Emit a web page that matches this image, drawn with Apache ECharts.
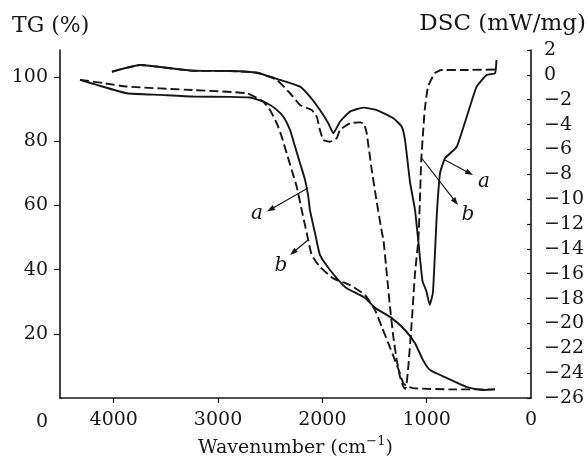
<!DOCTYPE html>
<html><head><meta charset="utf-8">
<script src="https://cdn.jsdelivr.net/npm/echarts@6/dist/echarts.min.js"></script>
<style>html,body{margin:0;padding:0;background:#fff}#c{width:588px;height:464px}</style>
</head><body><div id="c"></div>
<script>
// ---- data (wavenumber in cm^-1, TG in %, DSC in mW/mg) ----
const tgA_wn = [4323,4160,3873,3556,3240,2885,2694,2598,2531,2454,2374,2310,2262,2214,2166,2135,2119,2071,2023,1927,1802,1754,1591,1495,1335,1208,1112,1035,968,805,614,460,345];
const tgA    = [99.2,97.6,95.0,94.5,94.0,93.9,93.7,92.8,91.9,90.3,87.7,83.6,78.4,73.2,68.0,62.8,58.6,51.5,44.6,39.9,35.2,34.0,31.2,28.1,24.9,21.2,17.1,11.8,8.7,6.2,3.4,2.5,2.7];

const tgB_wn = [4323,4103,3873,3240,2722,2566,2502,2438,2390,2342,2294,2246,2198,2150,2102,2023,1895,1735,1591,1495,1431,1368,1304,1256,1224,1176,1112,776,345];
const tgB    = [99.2,98.2,97.1,96.0,95.0,92.4,89.8,85.7,81.5,76.3,71.1,65.9,58.6,51.5,44.6,40.9,37.3,35.2,32.1,27.4,22.2,17.1,11.8,7.7,4.6,3.5,3.0,2.7,2.7];

const dscA_wn = [4017,3748,3240,2885,2627,2406,2214,2119,2023,1943,1895,1831,1735,1608,1479,1320,1239,1208,1160,1112,1080,1040,1003,971,940,904,872,824,712,616,521,425,345,331];
const dscA    = [0.25,0.79,0.33,0.31,0.17,-0.41,-0.95,-1.76,-2.83,-3.90,-4.70,-3.77,-2.96,-2.64,-2.83,-3.49,-4.17,-5.24,-8.6,-10.87,-13.4,-16.6,-17.4,-18.5,-17.5,-11.41,-7.92,-6.71,-5.78,-3.37,-0.95,-0.01,0.13,1.2];

const dscB_wn = [4017,3748,3240,2885,2627,2438,2310,2214,2102,2054,2023,1991,1927,1863,1831,1735,1639,1600,1575,1531,1483,1431,1414,1383,1352,1320,1287,1256,1224,1205,1192,1176,1144,1112,1080,1065,1052,1035,1019,987,923,860,652,345];
const dscB    = [0.25,0.79,0.33,0.31,0.17,-0.41,-1.48,-2.42,-2.83,-3.37,-4.44,-5.24,-5.38,-5.10,-4.44,-3.90,-3.82,-3.95,-4.70,-7.4,-10.0,-12.6,-13.29,-15.96,-18.65,-21.06,-22.94,-24.28,-25.09,-25.27,-24.81,-23.48,-19.99,-15.96,-13.29,-10.1,-6.85,-4.68,-2.83,-0.95,0.13,0.39,0.39,0.43];

const xTickValues  = [1000,2000,3000,4000];
const xLabelValues = [0,1000,2000,3000,4000];
const tgTickValues = [20,40,60,80,100];

function pairs(xs, ys){ return xs.map((x,i)=>[x, ys[i]]); }

const FONT = 'DejaVu Serif';
const INK = '#161616';

function arrow(x1,y1,x2,y2){
  const dx=x2-x1, dy=y2-y1, L=Math.hypot(dx,dy), ux=dx/L, uy=dy/L;
  const hl=8, hw=2.8;
  const bx=x2-ux*hl, by=y2-uy*hl;
  return [
    {type:'line', silent:true, shape:{x1:x1,y1:y1,x2:bx+ux*1,y2:by+uy*1}, style:{stroke:INK, lineWidth:1.2}},
    {type:'polygon', silent:true, shape:{points:[[x2,y2],[bx-uy*hw,by+ux*hw],[bx+uy*hw,by-ux*hw]]}, style:{fill:INK}}
  ];
}
function txt(x,y,t,opt){
  return Object.assign({type:'text', x:x, y:y, silent:true,
    style:Object.assign({text:t, fontFamily:FONT, fontSize:20, fill:INK, align:'center', verticalAlign:'middle'}, opt||{})});
}

const chart = echarts.init(document.getElementById('c'), null, {renderer:'canvas'});

const lineBase = {type:'line', showSymbol:false, symbol:'none', smooth:0.15, animation:false};

chart.setOption({
  animation:false,
  backgroundColor:'#ffffff',
  textStyle:{fontFamily:FONT, color:INK},
  grid:{left:60, right:57, top:50, bottom:66, containLabel:false, outerBoundsMode:'none'},
  xAxis:{
    type:'value', inverse:true, min:0, max:4515,
    name:'Wavenumber (cm{sup|−1})', nameLocation:'middle', nameGap:34,
    nameTextStyle:{fontFamily:FONT, fontSize:19, color:INK, lineHeight:26,
      rich:{sup:{fontFamily:FONT, fontSize:13, color:INK, verticalAlign:'top', lineHeight:14}}},
    axisLine:{show:true, lineStyle:{color:INK, width:1.6}},
    axisTick:{show:true, inside:false, length:5, lineStyle:{color:INK, width:1.2}, customValues:xTickValues},
    axisLabel:{fontFamily:FONT, fontSize:19, color:INK, margin:13, customValues:xLabelValues,
      formatter:function(v){ return String(v); }},
    splitLine:{show:false}
  },
  yAxis:[
    {
      type:'value', min:0, max:108.5, position:'left',
      axisLine:{show:true, onZero:false, lineStyle:{color:INK, width:1.6}},
      axisTick:{show:true, inside:false, length:6, lineStyle:{color:INK, width:1.2}, customValues:tgTickValues},
      axisLabel:{fontFamily:FONT, fontSize:19, color:INK, margin:12, customValues:tgTickValues},
      splitLine:{show:false}
    },
    {
      type:'value', min:-26, max:2, interval:2, position:'right',
      axisLine:{show:true, onZero:false, lineStyle:{color:INK, width:1.6}},
      axisTick:{show:true, inside:true, length:4, lineStyle:{color:INK, width:1.2}},
      axisLabel:{fontFamily:FONT, fontSize:19, color:INK, margin:13,
        formatter:function(v){ return v < 0 ? '\u2212' + Math.abs(v) : String(v); }},
      splitLine:{show:false}
    }
  ],
  series:[
    Object.assign({}, lineBase, {name:'TG a', yAxisIndex:0, data:pairs(tgA_wn, tgA), lineStyle:{color:INK, width:1.9, type:'solid'}}),
    Object.assign({}, lineBase, {name:'TG b', yAxisIndex:0, data:pairs(tgB_wn, tgB), lineStyle:{color:INK, width:1.9, type:[9,4]}}),
    Object.assign({}, lineBase, {name:'DSC a', yAxisIndex:1, data:pairs(dscA_wn, dscA), lineStyle:{color:INK, width:1.9, type:'solid'}}),
    Object.assign({}, lineBase, {name:'DSC b', yAxisIndex:1, data:pairs(dscB_wn, dscB), lineStyle:{color:INK, width:1.9, type:[9,4]}})
  ],
  graphic:[
    txt(12, 26, 'TG (%)', {fontSize:22, align:'left'}),
    txt(586, 24, 'DSC (mW/mg)', {fontSize:23, align:'right'}),
    txt(42, 422, '0', {fontSize:19}),
    ...arrow(308, 188, 267, 211.5),
    txt(257, 214, 'a', {fontStyle:'italic'}),
    ...arrow(308, 240, 290, 255),
    txt(281, 266, 'b', {fontStyle:'italic'}),
    ...arrow(445, 160, 473, 175),
    txt(484, 182, 'a', {fontStyle:'italic'}),
    ...arrow(421.5, 158, 458, 205),
    txt(468, 215, 'b', {fontStyle:'italic'})
  ]
});
</script>
</body></html>
